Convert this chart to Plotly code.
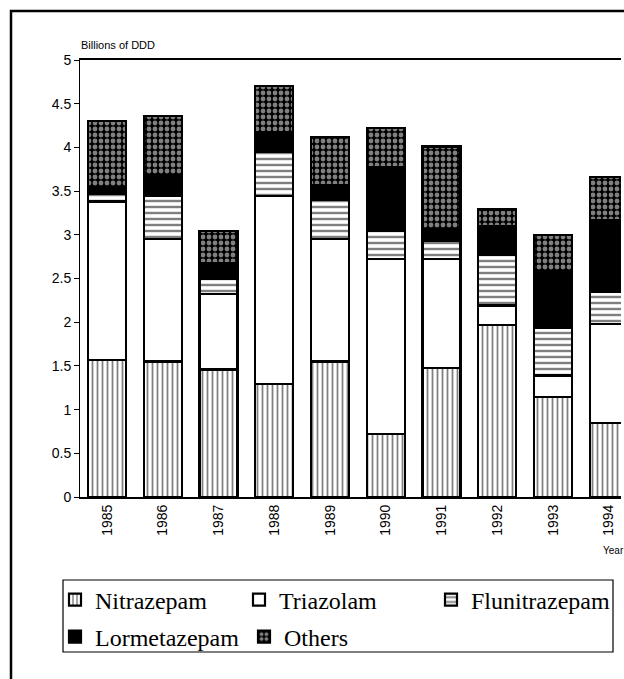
import plotly.graph_objects as go

# ---- data (billions of DDD) ----
years = [1985, 1986, 1987, 1988, 1989, 1990, 1991, 1992, 1993, 1994]
year_labels = ["1985", "1986", "1987", "1988", "1989", "1990", "1991", "1992", "1993", "1994"]
nitrazepam = [1.57, 1.55, 1.46, 1.29, 1.55, 0.72, 1.48, 1.97, 1.14, 0.85]
triazolam = [1.81, 1.40, 0.86, 2.15, 1.40, 2.00, 1.24, 0.22, 0.25, 1.13]
flunitrazepam = [0.09, 0.49, 0.18, 0.51, 0.45, 0.32, 0.21, 0.58, 0.55, 0.37]
lormetazepam = [0.08, 0.24, 0.18, 0.23, 0.17, 0.73, 0.13, 0.33, 0.64, 0.82]
others = [0.75, 0.68, 0.36, 0.52, 0.55, 0.45, 0.95, 0.19, 0.42, 0.49]
y_ticks = [0, 0.5, 1, 1.5, 2, 2.5, 3, 3.5, 4, 4.5, 5]
y_tick_labels = ["0", "0.5", "1", "1.5", "2", "2.5", "3", "3.5", "4", "4.5", "5"]

# ---- layout geometry (pixels) ----
W, H = 624, 679
ML, MR, MT, MB = 80, 3, 60, 182
PW = W - ML - MR
PH = H - MT - MB


def px_x(px):
    return (px - ML) / PW


def px_y(py):
    return (H - MB - py) / PH


line = dict(color="black", width=2.2)
series = [
    ("Nitrazepam", nitrazepam, "white",
     dict(shape="|", fgcolor="black", bgcolor="white", size=5, solidity=0.35), "legend"),
    ("Triazolam", triazolam, "white", None, "legend2"),
    ("Flunitrazepam", flunitrazepam, "white",
     dict(shape="-", fgcolor="black", bgcolor="white", size=6, solidity=0.4), "legend3"),
    ("Lormetazepam", lormetazepam, "black", None, "legend4"),
    ("Others", others, "black",
     dict(shape=".", fgcolor="white", bgcolor="black", size=6, solidity=0.5), "legend5"),
]

fig = go.Figure()
for name, vals, col, pat, leg in series:
    marker = dict(color=col, line=line)
    if pat is not None:
        marker["pattern"] = pat
    fig.add_trace(go.Bar(x=years, y=vals, name=name, width=0.68, marker=marker,
                         legend=leg, hoverinfo="skip"))

legend_font = dict(family="Liberation Serif, Times New Roman, serif", size=24, color="black")
leg_pos = {
    "legend": (55, 600),
    "legend2": (239, 600),
    "legend3": (431, 600),
    "legend4": (55, 637),
    "legend5": (244, 637),
}
legends = {}
for k, (lx, ly) in leg_pos.items():
    legends[k] = dict(x=px_x(lx), y=px_y(ly), xanchor="left", yanchor="middle",
                      orientation="h", font=legend_font, bgcolor="rgba(0,0,0,0)",
                      borderwidth=0, itemclick=False, itemdoubleclick=False)

spacing = 55.75
x0 = 1985 - (107 - ML) / spacing
x1 = x0 + PW / spacing

fig.update_layout(
    width=W, height=H,
    margin=dict(l=ML, r=MR, t=MT, b=MB, pad=0),
    paper_bgcolor="white", plot_bgcolor="white",
    barmode="stack",
    showlegend=True,
    font=dict(family="Liberation Sans, Arial, sans-serif", color="black"),
    xaxis=dict(range=[x0, x1], tickmode="array", tickvals=years, ticktext=year_labels,
               tickangle=-90, tickfont=dict(size=14), showline=True, linecolor="black",
               linewidth=2.2, mirror=True, showgrid=False, zeroline=False, ticks=""),
    yaxis=dict(range=[0, 5], tickmode="array", tickvals=y_ticks, ticktext=y_tick_labels,
               tickfont=dict(size=14), ticks="outside", ticklen=5, tickcolor="black",
               tickwidth=1, showline=True, linecolor="black", linewidth=1,
               showgrid=False, zeroline=False),
    annotations=[
        dict(text="Billions of DDD", x=px_x(79), y=px_y(45), xref="paper", yref="paper",
             xanchor="left", yanchor="middle", showarrow=False,
             font=dict(size=11, family="Liberation Sans, Arial, sans-serif")),
        dict(text="Year", x=px_x(601), y=px_y(550), xref="paper", yref="paper",
             xanchor="left", yanchor="middle", showarrow=False,
             font=dict(size=10, family="Liberation Sans, Arial, sans-serif")),
    ],
    shapes=[
        # outer frame (right and bottom sides fall outside the page)
        dict(type="rect", xref="paper", yref="paper", x0=px_x(11), x1=px_x(660),
             y0=px_y(700), y1=px_y(11), line=dict(color="black", width=2.5),
             fillcolor="rgba(0,0,0,0)", layer="below"),
        # legend box
        dict(type="rect", xref="paper", yref="paper", x0=px_x(63), x1=px_x(613),
             y0=px_y(652), y1=px_y(580), line=dict(color="black", width=1.2),
             fillcolor="rgba(0,0,0,0)"),
    ],
    **legends,
)

fig.write_html(
    "out.html",
    config={"displayModeBar": False},
    post_script="document.body.style.margin='0';document.body.style.overflow='hidden';",
)
